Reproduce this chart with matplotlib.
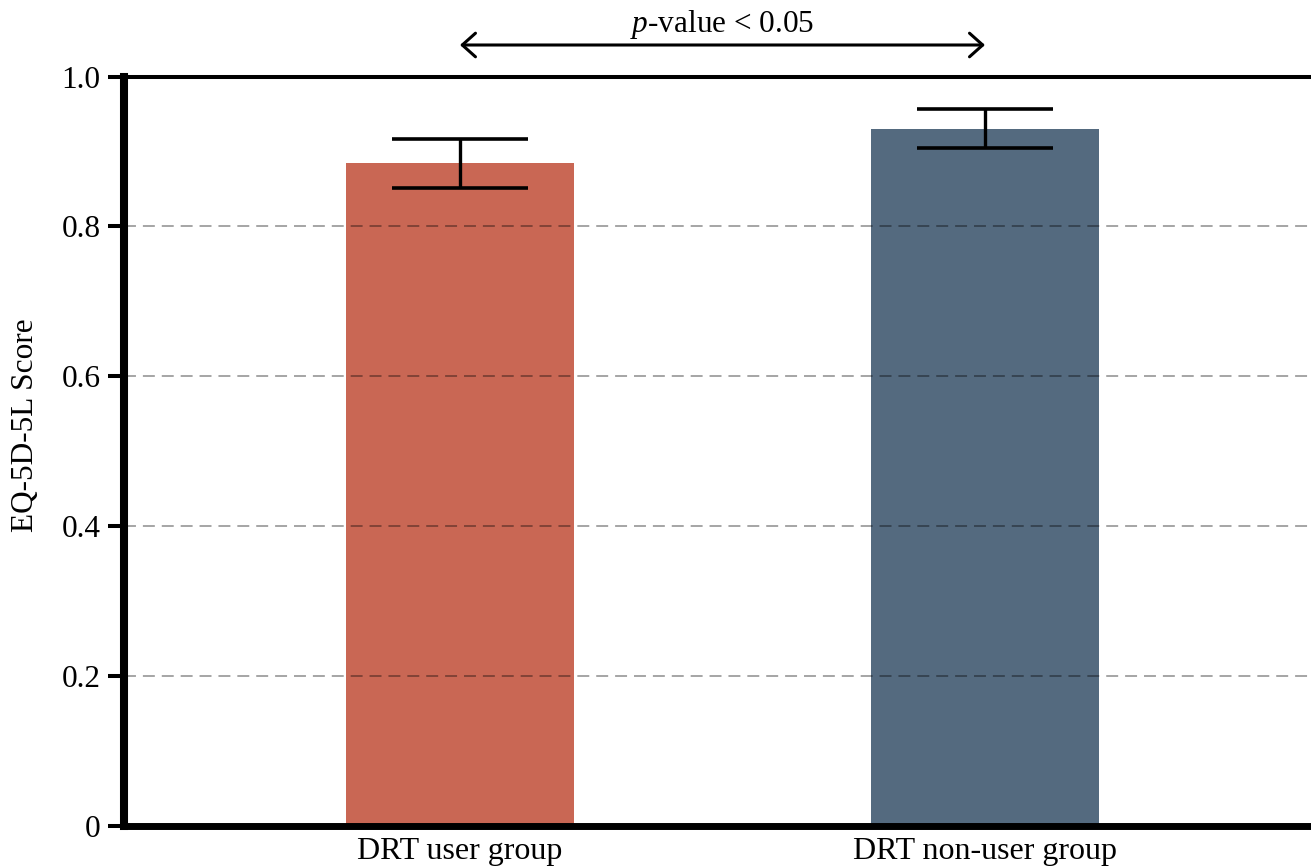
import matplotlib
matplotlib.use("Agg")
import matplotlib.pyplot as plt
import matplotlib.transforms as mtransforms

plt.rcParams['font.family'] = ['Liberation Serif', 'DejaVu Serif']
plt.rcParams['mathtext.fontset'] = 'custom'
plt.rcParams['mathtext.rm'] = 'Liberation Serif'
plt.rcParams['mathtext.it'] = 'Liberation Serif:italic'
plt.rcParams['lines.scale_dashes'] = False

categories = ["DRT user group", "DRT non-user group"]
means = [0.884, 0.930]
errors = [0.033, 0.026]
bar_colors = ["#C96754", "#546A7F"]
yticks = [0, 0.2, 0.4, 0.6, 0.8, 1.0]
ytick_labels = ["0", "0.2", "0.4", "0.6", "0.8", "1.0"]
y_label = "EQ-5D-5L Score"
annotation = "$\\it{p}$-value < 0.05"

W, H = 1311, 866
fig = plt.figure(figsize=(W / 100, H / 100), dpi=100)
ax = fig.add_axes([124 / W, 1 - 826 / H, 1 - 124 / W, (826 - 76.5) / H])

x = list(range(len(categories)))
ax.bar(x, means, width=0.436, color=bar_colors, zorder=1)
ax.errorbar(x, means, yerr=errors, fmt='none', ecolor='black',
            elinewidth=2.4, capsize=49, capthick=2.6, zorder=4)

for yv in yticks[1:-1]:
    ax.axhline(yv, color='black', alpha=0.45, lw=1.1, dashes=[8.6, 5], zorder=3)

ax.set_xlim(-0.64, 1.621)
ax.set_ylim(0, 1.0)
ax.set_yticks(yticks)
ax.set_yticklabels(ytick_labels, fontsize=22.5)
ax.set_xticks(x)
ax.set_xticklabels(categories, fontsize=23)
ax.tick_params(axis='y', length=11.5, width=2.9, pad=5.5, color='black')
ax.tick_params(axis='x', length=0, pad=8)

ax.spines['right'].set_visible(False)
ax.spines['left'].set_linewidth(5.8)
ax.spines['bottom'].set_linewidth(5.0)
ax.spines['top'].set_linewidth(2.9)
for s in ['left', 'bottom', 'top']:
    ax.spines[s].set_zorder(5)

fig.text(26 / W, 1 - 425 / H, y_label, rotation=90, fontsize=22.5,
         ha='center', va='center')

trans = mtransforms.blended_transform_factory(ax.transData, fig.transFigure)
ax.annotate('', xy=(x[0], 1 - 45 / H), xytext=(x[1], 1 - 45 / H),
            xycoords=trans, textcoords=trans,
            arrowprops=dict(arrowstyle='<->,head_length=0.95,head_width=0.85',
                            mutation_scale=10, lw=2.2, color='black',
                            shrinkA=0, shrinkB=0),
            annotation_clip=False)
fig.text((x[0] + x[1]) / 2, 1 - 32 / H, annotation, transform=trans,
         fontsize=22.5, ha='center', va='baseline')

fig.savefig("out.png", dpi=100)
